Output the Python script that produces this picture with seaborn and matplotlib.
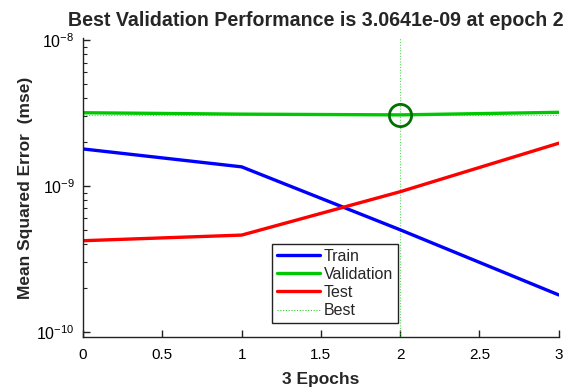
import numpy as np
import pandas as pd
import matplotlib
matplotlib.use("Agg")
import matplotlib.pyplot as plt
import seaborn as sns
from matplotlib.lines import Line2D

epochs = [0, 1, 2, 3]
train = [1.79e-9, 1.35e-9, 0.50e-9, 1.79e-10]
validation = [3.17e-9, 3.10e-9, 3.0641e-9, 3.19e-9]
test = [0.421e-9, 0.46e-9, 0.912e-9, 1.96e-9]
best_epoch = 2
best_value = 3.0641e-9
xticks = [0, 0.5, 1, 1.5, 2, 2.5, 3]
xtick_labels = ["0", "0.5", "1", "1.5", "2", "2.5", "3"]

sns.set_theme(style="white")
plt.rcParams['font.family'] = ['Liberation Sans', 'DejaVu Sans']

df = pd.DataFrame({
    "epoch": epochs * 3,
    "mse": train + validation + test,
    "set": ["Train"] * 4 + ["Validation"] * 4 + ["Test"] * 4,
})
palette = {"Train": "#0000ff", "Validation": "#00c800", "Test": "#ff0000"}

fig = plt.figure(figsize=(5.69, 3.92), dpi=100)
ax = fig.add_axes([0.146, 0.140, 0.836, 0.763])

sns.lineplot(data=df, x="epoch", y="mse", hue="set", palette=palette,
             linewidth=2.4, ax=ax, legend=False)
ax.axvline(best_epoch, color="#33cc33", linestyle=(0, (1, 1.5)), linewidth=0.8, alpha=0.8, zorder=1)
ax.axhline(best_value, color="#33cc33", linestyle=(0, (1, 1.5)), linewidth=0.8, alpha=0.8, zorder=1)
ax.plot([best_epoch], [best_value], marker="o", markersize=16, markerfacecolor="none",
        markeredgecolor="#007000", markeredgewidth=2, linestyle="none", zorder=5)

ax.set_yscale("log")
ax.set_ylim(9.2e-11, 1.03e-8)
ax.set_xlim(0, 3)
ax.set_xticks(xticks)
ax.set_xticklabels(xtick_labels)

for s in ["top", "right"]:
    ax.spines[s].set_visible(False)
for s in ["left", "bottom"]:
    ax.spines[s].set_color("#222222")
    ax.spines[s].set_linewidth(1.0)

ax.tick_params(axis="both", which="major", direction="in", length=5, width=1,
               left=True, bottom=True, colors="#222222", labelcolor="black", pad=8)
ax.tick_params(axis="x", which="major", labelsize=11)
ax.tick_params(axis="y", which="major", labelsize=11.5, pad=6)
ax.tick_params(axis="y", which="minor", direction="in", length=3, width=0.8,
               left=True, colors="#222222", labelleft=False)
ax.tick_params(axis="x", which="minor", bottom=False)

ax.set_title("Best Validation Performance is 3.0641e-09 at epoch 2",
             fontsize=14.1, fontweight="bold", pad=9, x=0.49)
ax.set_xlabel("3 Epochs", fontsize=12.5, fontweight="bold", labelpad=7)
ax.set_ylabel("Mean Squared Error  (mse)", fontsize=12.5, fontweight="bold", labelpad=2)

handles = [
    Line2D([], [], color="#0000ff", linewidth=2.4),
    Line2D([], [], color="#00c800", linewidth=2.4),
    Line2D([], [], color="#ff0000", linewidth=2.4),
    Line2D([], [], color="#33cc33", linewidth=0.8, linestyle=(0, (1, 1.5))),
]
leg = ax.legend(handles, ["Train", "Validation", "Test", "Best"], loc="lower left",
                bbox_to_anchor=(0.397, 0.047), fontsize=11.5, frameon=True, fancybox=False,
                edgecolor="#222222", framealpha=1, handlelength=2.7, handletextpad=0.25,
                borderpad=0.3, labelspacing=0.2, borderaxespad=0)
leg.get_frame().set_linewidth(1.0)

fig.savefig("out.png", dpi=100)
